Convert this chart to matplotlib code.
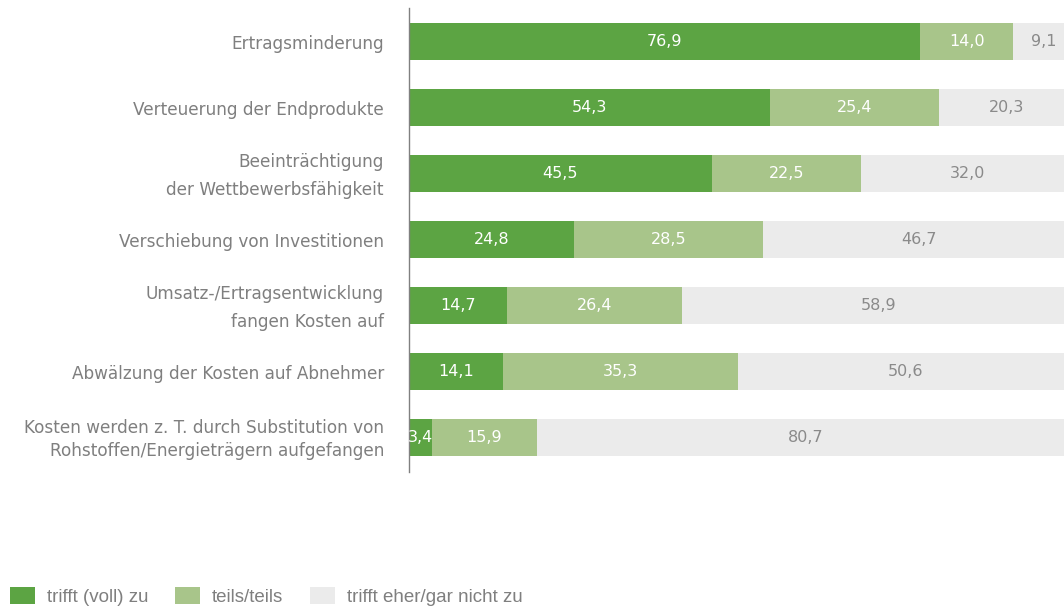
import matplotlib
matplotlib.use("Agg")
import matplotlib.pyplot as plt
import matplotlib.transforms as mtransforms
import numpy as np

categories = [
    "Ertragsminderung",
    "Verteuerung der Endprodukte",
    "Beeinträchtigung\nder Wettbewerbsfähigkeit",
    "Verschiebung von Investitionen",
    "Umsatz-/Ertragsentwicklung\nfangen Kosten auf",
    "Abwälzung der Kosten auf Abnehmer",
    "Kosten werden z. T. durch Substitution von\nRohstoffen/Energieträgern aufgefangen",
]
voll = [76.9, 54.3, 45.5, 24.8, 14.7, 14.1, 3.4]
teils = [14.0, 25.4, 22.5, 28.5, 26.4, 35.3, 15.9]
nicht = [9.1, 20.3, 32.0, 46.7, 58.9, 50.6, 80.7]
series_names = ["trifft (voll) zu", "teils/teils", "trifft eher/gar nicht zu"]

colors = ["#5ca443", "#a8c58a", "#ebebeb"]
text_colors = ["white", "white", "#8a8a8a"]
label_gray = "#7f7f7f"

plt.rcParams['font.family'] = ['DejaVu Sans']

W, H = 1064, 606
fig = plt.figure(figsize=(W / 100, H / 100), dpi=100)
ax = fig.add_axes([409 / W, 1 - 472 / H, 665 / W, 464 / H])

y = np.arange(len(categories))
left = np.zeros(len(categories))
bars = []
for vals, col, tcol, name in zip([voll, teils, nicht], colors, text_colors, series_names):
    b = ax.barh(y, vals, left=left, height=0.56, color=col, label=name, linewidth=0)
    bars.append(b)
    for yi, l, v in zip(y, left, vals):
        ax.text(l + v / 2, yi, f"{v:.1f}".replace(".", ","), ha="center", va="center",
                color=tcol, fontsize=11.5)
    left = left + np.array(vals)

ax.set_xlim(0, 100)
ax.set_ylim(6.52, -0.51)
ax.set_yticks([])
ax.set_xticks([])

spacings = [1.0, 1.0, 1.7, 1.0, 1.7, 1.0, 1.38]
lab_tr = ax.get_yaxis_transform() + mtransforms.ScaledTranslation(-25 / 100, -2 / 100, fig.dpi_scale_trans)
for yi, cat, s in zip(y, categories, spacings):
    ax.text(0, yi, cat, transform=lab_tr, ha="right", va="center", fontsize=12.2,
            color=label_gray, linespacing=s, multialignment="right")

for s in ["top", "right", "bottom"]:
    ax.spines[s].set_visible(False)
ax.spines["left"].set_color("#808080")
ax.spines["left"].set_linewidth(1.0)

leg = fig.legend(handles=bars, labels=series_names, loc="lower left",
                 bbox_to_anchor=(10 / W, 0 / H), ncol=3, frameon=False,
                 prop={'family': ['Liberation Sans'], 'size': 13.5},
                 handlelength=1.35, handleheight=0.95,
                 handletextpad=0.6, columnspacing=1.45, borderpad=0, borderaxespad=0)
for t in leg.get_texts():
    t.set_color(label_gray)

fig.savefig("out.png", dpi=100)
